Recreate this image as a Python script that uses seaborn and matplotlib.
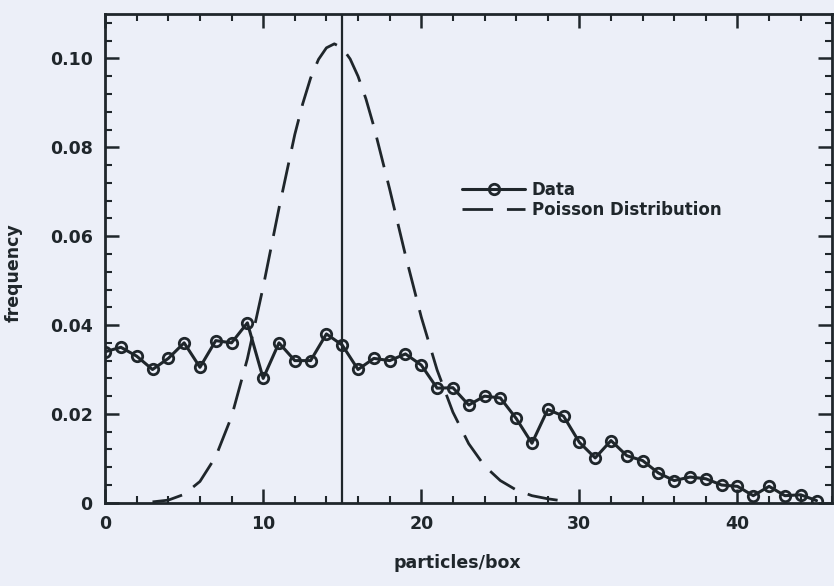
import numpy as np
import pandas as pd
import matplotlib
matplotlib.use('Agg')
import matplotlib.pyplot as plt
from matplotlib.ticker import MultipleLocator, FuncFormatter
import seaborn as sns

# data
particles = list(range(0, 46))
data_freq = [0.0340, 0.0350, 0.0330, 0.0300, 0.0325, 0.0360, 0.0305, 0.0365, 0.0360, 0.0405,
             0.0280, 0.0360, 0.0320, 0.0320, 0.0380, 0.0355, 0.0300, 0.0325, 0.0320, 0.0335,
             0.0310, 0.0258, 0.0259, 0.0220, 0.0240, 0.0236, 0.0190, 0.0134, 0.0210, 0.0195,
             0.0136, 0.0101, 0.0140, 0.0106, 0.0095, 0.0067, 0.0050, 0.0058, 0.0054, 0.0040,
             0.0037, 0.0016, 0.0037, 0.0016, 0.0018, 0.0005]

# smooth dashed curve, read at whole steps and at half steps around the peak
poisson_x = [3, 4, 5, 6, 7, 8, 9, 10, 11, 12, 12.5, 13, 13.5, 14, 14.5, 15, 15.5, 16, 16.5,
             17, 18, 19, 20, 21, 22, 23, 24, 25, 26, 27, 28, 29]
poisson_freq = [0.0002, 0.0006, 0.0019, 0.0048, 0.0104, 0.0194, 0.0324, 0.0486, 0.0663, 0.0829,
                0.0898, 0.0956, 0.0998, 0.1024, 0.1033, 0.1024, 0.0999, 0.0960, 0.0909,
                0.0847, 0.0706, 0.0557, 0.0418, 0.0299, 0.0204, 0.0133, 0.0083, 0.0050,
                0.0029, 0.0016, 0.0009, 0.0004]

mean_line = 15

ink = '#1f262b'
paper = '#eceff8'

sns.set_style('ticks')
plt.rcParams['font.family'] = ['DejaVu Sans']
plt.rcParams['font.weight'] = 'bold'

df_data = pd.DataFrame({'particles/box': particles, 'frequency': data_freq})
df_pois = pd.DataFrame({'particles/box': poisson_x, 'frequency': poisson_freq})

fig = plt.figure(figsize=(8.34, 5.86), dpi=100, facecolor=paper)
ax = fig.add_axes([0.126, 0.142, 0.872, 0.834])
ax.set_facecolor(paper)

sns.lineplot(data=df_data, x='particles/box', y='frequency', ax=ax, color=ink, lw=2.2,
             marker='o', markersize=7.5, markerfacecolor='none', markeredgecolor=ink,
             markeredgewidth=2, label='Data')
sns.lineplot(data=df_pois, x='particles/box', y='frequency', ax=ax, color=ink, lw=2,
             dashes=False, label='Poisson Distribution')
ax.lines[-1].set_dashes([11, 5])
ax.axvline(mean_line, color=ink, lw=1.6)

ax.set_xlim(0, 46)
ax.set_ylim(0, 0.11)
ax.xaxis.set_major_locator(MultipleLocator(10))
ax.xaxis.set_minor_locator(MultipleLocator(2))
ax.yaxis.set_major_locator(MultipleLocator(0.02))
ax.yaxis.set_minor_locator(MultipleLocator(0.004))
ax.yaxis.set_major_formatter(FuncFormatter(lambda v, p: '0' if abs(v) < 1e-9 else f'{v:.2f}'))

ax.tick_params(which='both', direction='in', top=True, right=True, color=ink,
               labelcolor=ink, labelsize=12.5)
ax.tick_params(which='major', length=10, width=1.8, pad=9)
ax.tick_params(which='minor', length=5, width=1.5)
for s in ax.spines.values():
    s.set_linewidth(2)
    s.set_color(ink)

ax.set_xlabel('particles/box', fontsize=12.5, color=ink, fontweight='bold')
ax.set_ylabel('frequency', fontsize=12.5, color=ink, fontweight='bold')
ax.xaxis.set_label_coords(0.484, -0.105)
ax.yaxis.set_label_coords(-0.113, 0.47)

leg = ax.legend(loc='upper left', bbox_to_anchor=(0.47, 0.69), frameon=False,
                fontsize=12, handlelength=3.8, handletextpad=0.4, labelspacing=0.15)
for t in leg.get_texts():
    t.set_color(ink)

fig.savefig('out.png', dpi=100, facecolor=paper)
